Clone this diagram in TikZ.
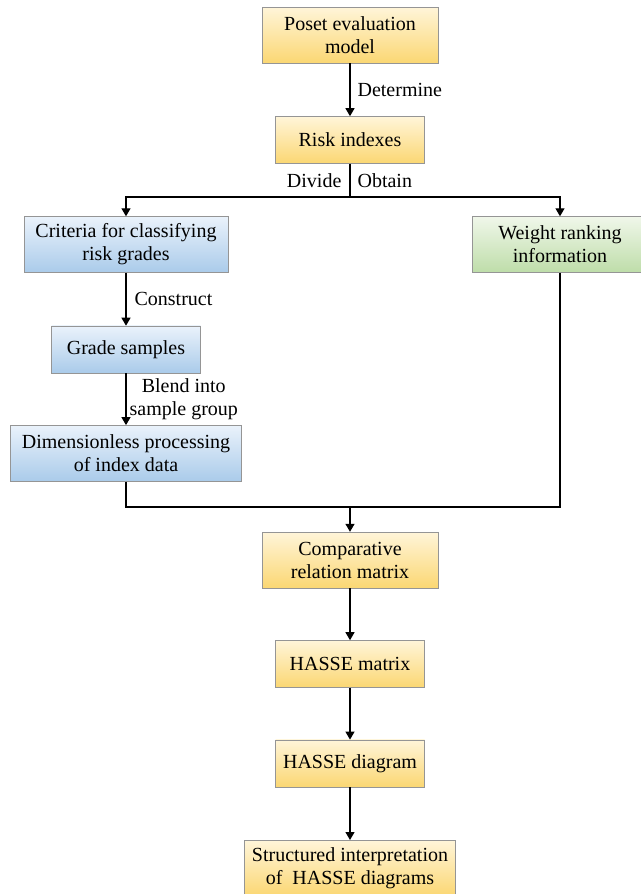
\documentclass[tikz,border=0pt]{standalone}
\usepackage{fontspec}
\setmainfont{DejaVu Serif}
\newfontfamily\boxfont{Liberation Serif}
\usetikzlibrary{positioning}
\usetikzlibrary{arrows.meta}
\definecolor{boxline}{HTML}{959595}
\definecolor{ylwtop}{HTML}{FFF5D9}
\definecolor{ylwbot}{HTML}{FBD773}
\definecolor{bluetop}{HTML}{EAF2FB}
\definecolor{bluebot}{HTML}{AACBEA}
\definecolor{grntop}{HTML}{F0F7EA}
\definecolor{grnbot}{HTML}{BEDDA9}
\tikzset{node distance=53pt,
    every node/.style={
        font=\fontsize{20}{23}\selectfont\boxfont},
    flow/.style={
        draw=boxline,
        align=center,
        inner sep=2pt,
        minimum height=47pt},
    twoline/.style={minimum height=56pt},
    ylwbox/.style={flow, top color=ylwtop, bottom color=ylwbot},
    bluebox/.style={flow, top color=bluetop, bottom color=bluebot},
    grnbox/.style={flow, top color=grntop, bottom color=grnbot},
    link/.style={
        draw,
        -{Triangle[length=8pt,width=9pt]},
        line width=1.2pt},
    plain/.style={draw, line width=1.2pt}}

\begin{document}
\begin{tikzpicture}[x=1pt,y=-1pt]
        \useasboundingbox (0,0) rectangle (640,894);

        \node[ylwbox, twoline, minimum width=176pt] (poset) at (350,35) {Poset evaluation\\model};
        \node[ylwbox, minimum width=149pt, below=of poset] (risk) {Risk indexes};
        \node[bluebox, twoline, minimum width=204pt] (criteria) at (126,244.5) {Criteria for classifying\\risk grades};
        \node[grnbox, twoline, minimum width=176pt] (weight) at (560,244.5) {Weight ranking\\information};
        \node[bluebox, minimum width=149pt, below=of criteria] (grade) {Grade samples};
        \node[bluebox, twoline, minimum width=231pt, below=52pt of grade] (dimless) {Dimensionless processing\\of index data};
        \node[ylwbox, twoline, minimum width=176pt] (compare) at (350,560) {Comparative\\relation matrix};
        \node[ylwbox, minimum width=149pt, below=52pt of compare] (hmatrix) {HASSE matrix};
        \node[ylwbox, minimum width=149pt, below=52pt of hmatrix] (hdiagram) {HASSE diagram};
        \node[ylwbox, twoline, minimum width=211pt, below=of hdiagram] (structured) {Structured interpretation\\of~ HASSE diagrams};

        \coordinate (fork) at (350,197);
        \coordinate (join) at (350,507);

        \draw[link] (poset) -- node[right, inner sep=7pt] {Determine} (risk);
        \draw[plain] (risk) -- node[left, inner sep=8pt] {Divide} node[right, inner sep=7pt] {Obtain} (fork);
        \draw[link] (fork) -| (criteria);
        \draw[link] (fork) -| (weight);
        \draw[link] (criteria) -- node[right, inner sep=8pt] {Construct} (grade);
        \draw[link] (grade) -- node[right, align=center, inner sep=3pt] {Blend into\\sample group} (dimless);
        \draw[plain] (dimless) |- (join);
        \draw[plain] (weight) |- (join);
        \draw[link] (join) -- (compare);
        \draw[link] (compare) -- (hmatrix);
        \draw[link] (hmatrix) -- (hdiagram);
        \draw[link] (hdiagram) -- (structured);
    \end{tikzpicture}
\end{document}
